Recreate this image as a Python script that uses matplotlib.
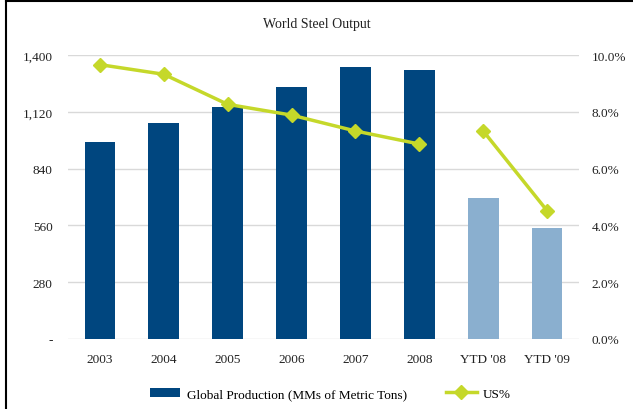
import numpy as np
import matplotlib.pyplot as plt
from matplotlib.lines import Line2D

plt.rcParams['font.family'] = ['Liberation Serif', 'DejaVu Serif']

#data
years = ['2003', '2004', '2005', '2006', '2007', '2008', "YTD '08", "YTD '09"]
production = [970, 1066, 1146, 1245, 1341, 1327, 695, 547]
us_pct = [9.67, 9.33, 8.27, 7.89, 7.33, 6.87, 7.33, 4.52]

dark_blue = '#00467f'
light_blue = '#8aafcf'
lime = '#c5d82a'
bar_colors = [dark_blue]*6 + [light_blue]*2

fig = plt.figure(figsize=(6.33, 4.10), dpi=100)
ax = fig.add_axes([0.1074, 0.1712, 0.8073, 0.6915])

x = np.arange(len(years))
bars = ax.bar(x, production, width=0.48, color=bar_colors, zorder=2,
              label='Global Production (MMs of Metric Tons)')
ax.set_xlim(-0.5, len(years) - 0.5)
ax.set_ylim(0, 1400)
ax.set_yticks(np.arange(0, 1401, 280))
ax.set_yticklabels(['-'] + ['{:,}'.format(v) for v in range(280, 1401, 280)])
ax.set_xticks(x)
ax.set_xticklabels(years)
ax.grid(axis='y', color='#d9d9d9', linewidth=1, zorder=0)
ax.set_axisbelow(True)
for s in ax.spines.values():
    s.set_visible(False)
ax.tick_params(length=0, labelsize=9.5, colors='#222222')
ax.tick_params(axis='y', pad=11)
ax.tick_params(axis='x', pad=10)

ax2 = ax.twinx()
ax2.set_ylim(0, 10)
ax2.set_yticks(np.arange(0, 10.1, 2))
ax2.set_yticklabels(['{:.1f}%'.format(v) for v in np.arange(0, 10.1, 2)])
for s in ax2.spines.values():
    s.set_visible(False)
ax2.tick_params(length=0, labelsize=9.5, colors='#222222', pad=9)

# line is broken between full years and YTD
line_kw = dict(color=lime, marker='D', markersize=7, linewidth=2.5)
line, = ax2.plot(x[:6], us_pct[:6], label='US%', **line_kw)
ax2.plot(x[6:], us_pct[6:], **line_kw)

fig.text(0.5, 0.94, 'World Steel Output', ha='center', va='center', fontsize=10, color='#222222')

fig.legend([bars, line], ['Global Production (MMs of Metric Tons)', 'US%'],
           loc='center', bbox_to_anchor=(0.522, 0.037), ncol=2, frameon=False,
           fontsize=9.5, handlelength=2.3, columnspacing=3, handletextpad=0.5)

# left/top border of the screenshot
fig.add_artist(Line2D([0.0095, 0.0095], [0, 0.995], color='black', linewidth=1.5))
fig.add_artist(Line2D([0.0095, 1], [0.995, 0.995], color='black', linewidth=1.5))

plt.savefig('out.png', dpi=100)
